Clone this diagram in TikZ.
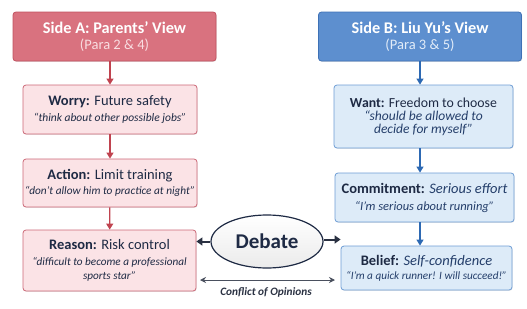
\documentclass[tikz,border=0pt]{standalone}
\usepackage{fontspec}
\setmainfont{Carlito}
\usetikzlibrary{arrows.meta,shapes.geometric,shadows}
\definecolor{hAfill}{HTML}{D9727F}
\definecolor{hAdraw}{HTML}{C2515F}
\definecolor{bAfill}{HTML}{FBE3E6}
\definecolor{bAdraw}{HTML}{CB6776}
\definecolor{arrA}{HTML}{C0434F}
\definecolor{hBfill}{HTML}{5D8FCF}
\definecolor{hBdraw}{HTML}{3E71B6}
\definecolor{bBfill}{HTML}{DDEBF8}
\definecolor{bBdraw}{HTML}{6E9DD5}
\definecolor{arrB}{HTML}{2D69B3}
\definecolor{ink}{HTML}{1E2A44}
\definecolor{inkB}{HTML}{243E6A}
\definecolor{dark}{HTML}{2A3142}
\definecolor{paA}{HTML}{F9DDE1}
\definecolor{paB}{HTML}{E2ECF8}
\newcommand{\hdfont}{\fontsize{16.3}{19}\selectfont\bfseries}
\newcommand{\parafont}{\fontsize{14.5}{17}\selectfont}
\newcommand{\lbfont}{\fontsize{14.5}{17}\selectfont}
\newcommand{\qtfont}{\fontsize{11.5}{14}\selectfont\itshape}
\begin{document}
\begin{tikzpicture}[x=1pt,y=-1pt,
  hdA/.style={draw=hAdraw,fill=hAfill,line width=0.8pt,rounded corners=3pt,align=center,text=white,inner sep=0pt,drop shadow={shadow xshift=0.6pt,shadow yshift=-0.8pt,opacity=0.25}},
  hdB/.style={draw=hBdraw,fill=hBfill,line width=0.8pt,rounded corners=3pt,align=center,text=white,inner sep=0pt,drop shadow={shadow xshift=0.6pt,shadow yshift=-0.8pt,opacity=0.25}},
  bxA/.style={draw=bAdraw,fill=bAfill,line width=0.8pt,rounded corners=3pt,align=center,text=ink,inner sep=0pt,drop shadow={shadow xshift=0.6pt,shadow yshift=-0.8pt,opacity=0.2}},
  bxB/.style={draw=bBdraw,fill=bBfill,line width=0.8pt,rounded corners=3pt,align=center,text=ink,inner sep=0pt,drop shadow={shadow xshift=0.6pt,shadow yshift=-0.8pt,opacity=0.2}},
  arA/.style={draw=arrA,line width=1.2pt,-{Triangle[width=7pt,length=6pt]}},
  arB/.style={draw=arrB,line width=1.2pt,-{Triangle[width=7pt,length=6pt]}},
  arD/.style={draw=dark,line width=2pt,-{Triangle[width=8pt,length=6pt]}},
  arC/.style={draw=dark!85,line width=1pt,{Stealth[width=6pt,length=6pt]}-{Stealth[width=6pt,length=6pt]}}
]
\useasboundingbox (0,0) rectangle (527,308);

% Side A
\node[hdA,minimum width=203pt,minimum height=49pt] (hA) at (114.5,36.5)
  {{\hdfont Side A: Parents' View}\\[4pt]{\parafont\color{paA}(Para 2 \& 4)}};
\node[bxA,minimum width=174pt,minimum height=49pt] (worry) at (110,109.5)
  {{\lbfont\textbf{Worry:} Future safety}\\[4pt]{\qtfont “think about other possible jobs”}};
\node[bxA,minimum width=174pt,minimum height=48pt] (action) at (110,183)
  {{\lbfont\textbf{Action:} Limit training}\\[2.5pt]{\qtfont\fontsize{11.3}{14}\selectfont “don’t allow him to practice at night”}};
\node[bxA,minimum width=173pt,minimum height=61pt] (reason) at (109.5,260.5)
  {{\lbfont\textbf{Reason:} Risk control}\\[4pt]{\qtfont\fontsize{11.2}{14}\selectfont “difficult to become a professional}\\[1.5pt]{\qtfont\fontsize{11.2}{14}\selectfont sports star”}};

% Side B
\node[hdB,minimum width=203pt,minimum height=49pt] (hB) at (420,36.5)
  {{\hdfont Side B: Liu Yu's View}\\[4pt]{\parafont\color{paB}(Para 3 \& 5)}};
\node[bxB,minimum width=179pt,minimum height=63pt] (want) at (423.5,116.5)
  {{\fontsize{13.8}{16}\selectfont\textbf{Want:} Freedom to choose}\\[1.5pt]{\qtfont\fontsize{13.5}{16}\selectfont\color{inkB} “should be allowed to}\\[0.5pt]{\qtfont\fontsize{13.5}{16}\selectfont\color{inkB} decide for myself”}};
\node[bxB,minimum width=179pt,minimum height=49pt] (commit) at (424.5,197.5)
  {{\lbfont\textbf{Commitment:} {\itshape\color{inkB}Serious effort}}\\[5pt]{\qtfont\fontsize{12.5}{15}\selectfont\color{inkB} “I’m serious about running”}};
\node[bxB,minimum width=171pt,minimum height=44pt] (belief) at (426.5,268)
  {{\lbfont\textbf{Belief:} {\itshape\color{inkB}Self-confidence}}\\[2pt]{\qtfont\fontsize{11.2}{14}\selectfont\color{inkB} “I’m a quick runner! I will succeed!”}};

% Debate
\node[ellipse,draw=ink,line width=1.2pt,minimum width=112pt,minimum height=53pt,inner sep=0pt,
  top color=white,bottom color=black!8,text=ink] (debate) at (267,241.5)
  {\fontsize{21}{24}\selectfont\bfseries Debate};
\coordinate (cL) at (200,280);
\coordinate (cR) at (335,280);
\node[text=dark,inner sep=0pt] (conf) at (266,292) {\fontsize{11.3}{13}\selectfont\bfseries\itshape Conflict of Opinions};

% Arrows A
\draw[arA] (hA.south -| worry.north) -- (worry.north);
\draw[arA] (worry) -- (action);
\draw[arA] (action) -- (reason);
% Arrows B
\draw[arB] (hB.south) -- (hB.south |- want.north);
\draw[arB] (hB.south |- want.south) -- (hB.south |- commit.north);
\draw[arB] (hB.south |- commit.south) -- (hB.south |- belief.north);

% Debate arrows
\draw[arD] (debate.west) -- (debate.west -| reason.east);
\draw[arD] ([yshift=2pt]debate.east) -- ([yshift=2pt]debate.east -| belief.west);
\draw[arC] (cL) -- (cR);
\end{tikzpicture}
\end{document}
